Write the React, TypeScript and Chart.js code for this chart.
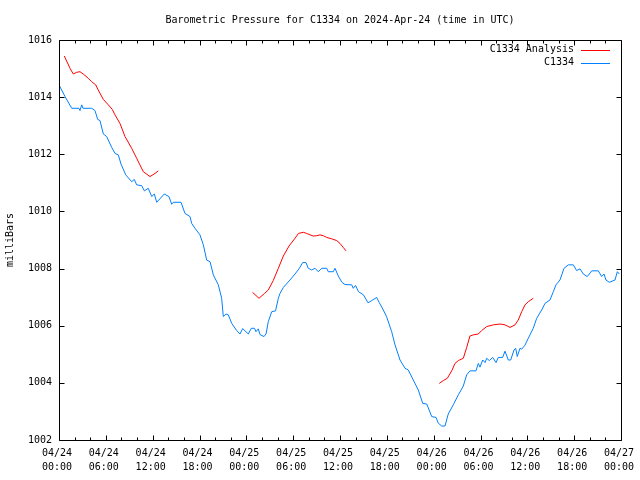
import React, { useEffect, useRef } from 'react';
import { Chart, registerables } from 'chart.js';

Chart.register(...registerables);

const TITLE = 'Barometric Pressure for C1334 on 2024-Apr-24 (time in UTC)';
const Y_TITLE = 'milliBars';
const SERIES_NAMES = ['C1334 Analysis', 'C1334'];
const SERIES_COLORS = ['#ff0000', '#0080ff'];

const TICK_DATES = ['04/24', '04/24', '04/24', '04/24', '04/25', '04/25', '04/25', '04/25', '04/26', '04/26', '04/26', '04/26', '04/27'];
const TICK_TIMES = ['00:00', '06:00', '12:00', '18:00', '00:00', '06:00', '12:00', '18:00', '00:00', '06:00', '12:00', '18:00', '00:00'];
const Y_MIN = 1002;
const Y_MAX = 1016;
const Y_STEP = 2;
const X_MIN = 0; // hours since 04/24 00:00
const X_MAX = 72;
const X_MAJOR = 6;
const X_MINOR = 2;

// C1334 Analysis (hours since 04/24 00:00 UTC, mb); null marks a gap
const ANALYSIS_HOURS = [
  0.68, 1.41, 1.83, 2.27, 2.69, 3.11, 3.75, 4.19, 4.7, 5.03, 5.68, 6.32, 6.83, 7.17, 7.81, 8.46, 9.31, 9.95, 10.8, 11.66, 12.3, 12.72,
  18,
  24.79, 25.62, 26.33, 26.81, 27.45, 28.1, 28.74, 29.47, 30.24, 30.68, 31.3, 31.73, 32.16, 32.58, 33.01, 33.44, 33.86, 34.3, 34.94, 35.58, 36.0, 36.42, 36.77,
  42,
  48.72, 49.23, 49.75, 50.31, 50.73, 51.16, 51.8, 52.23, 52.65, 53.08, 53.72, 54.15, 54.79, 55.64, 56.5, 57.14, 57.78, 58.42, 58.84, 59.28, 59.7, 60.12, 60.76,
];
const ANALYSIS_MB = [
  1015.44, 1015.01, 1014.81, 1014.87, 1014.89, 1014.81, 1014.66, 1014.54, 1014.43, 1014.25, 1013.92, 1013.73, 1013.57, 1013.38, 1013.08, 1012.62, 1012.21, 1011.86, 1011.39, 1011.22, 1011.33, 1011.42,
  null,
  1007.17, 1006.96, 1007.13, 1007.25, 1007.58, 1008.01, 1008.44, 1008.79, 1009.06, 1009.23, 1009.27, 1009.23, 1009.18, 1009.14, 1009.15, 1009.18, 1009.15, 1009.09, 1009.04, 1008.98, 1008.88, 1008.74, 1008.62,
  null,
  1003.98, 1004.08, 1004.16, 1004.42, 1004.68, 1004.78, 1004.86, 1005.24, 1005.64, 1005.68, 1005.71, 1005.83, 1005.97, 1006.03, 1006.06, 1006.03, 1005.94, 1006.03, 1006.2, 1006.49, 1006.73, 1006.84, 1006.96,
];

// C1334 observations
const STATION_HOURS = [
  0, 0.77, 1.63, 2.56, 2.69, 2.91, 3.07, 4.19, 4.61, 4.96, 5.25, 5.68, 6.11, 6.75, 7.18, 7.6, 7.94, 8.55, 9.31, 9.65,
  9.95, 10.6, 10.93, 11.44, 11.88, 12.21, 12.52, 13.49, 14.09, 14.44, 14.64, 15.63, 16.14, 16.78, 17.0, 17.42, 18.06, 18.49, 18.92, 19.35,
  19.77, 20.41, 20.84, 21.05, 21.39, 21.69, 22.13, 22.77, 23.19, 23.53, 24.25, 24.64, 25.05, 25.24, 25.53, 25.75, 26.26, 26.52, 26.81, 27.25,
  27.74, 28.1, 28.31, 28.74, 29.59, 30.24, 30.79, 31.22, 31.64, 31.94, 32.37, 32.8, 33.22, 33.66, 34.3, 34.5, 35.14, 35.36, 35.78, 36.22,
  36.64, 37.5, 37.7, 37.99, 38.37, 39.01, 39.59, 40.06, 40.7, 41.03, 41.55, 41.98, 42.62, 43.05, 43.69, 44.33, 44.75, 45.39, 46.03, 46.6,
  47.11, 47.75, 48.3, 48.59, 49.03, 49.45, 49.87, 50.51, 51.16, 51.8, 52.23, 52.65, 53.42, 53.72, 53.93, 54.28, 54.58, 54.79, 55.13, 55.56,
  55.99, 56.28, 56.84, 57.14, 57.56, 57.87, 58.29, 58.51, 58.71, 59.06, 59.28, 59.7, 60.12, 60.76, 61.2, 61.84, 62.26, 62.9, 63.33, 63.67,
  64.18, 64.7, 65.25, 65.89, 66.32, 66.75, 67.17, 67.68, 68.25, 69.09, 69.52, 69.82, 70.08, 70.5, 71.23, 71.53, 71.78,
];
const STATION_MB = [
  1014.43, 1014.02, 1013.61, 1013.61, 1013.53, 1013.73, 1013.61, 1013.61, 1013.53, 1013.22, 1013.18, 1012.71, 1012.62, 1012.24, 1012.03, 1011.98, 1011.66, 1011.28, 1011.04, 1011.12,
  1010.93, 1010.9, 1010.72, 1010.81, 1010.52, 1010.61, 1010.32, 1010.61, 1010.52, 1010.25, 1010.32, 1010.32, 1009.93, 1009.82, 1009.58, 1009.41, 1009.18, 1008.83, 1008.3, 1008.24,
  1007.78, 1007.43, 1006.96, 1006.32, 1006.41, 1006.38, 1006.08, 1005.83, 1005.71, 1005.9, 1005.71, 1005.91, 1005.91, 1005.79, 1005.89, 1005.69, 1005.62, 1005.71, 1006.14, 1006.49,
  1006.52, 1006.96, 1007.13, 1007.34, 1007.6, 1007.81, 1008.01, 1008.21, 1008.21, 1008.01, 1007.95, 1008.01, 1007.89, 1008.01, 1008.01, 1007.89, 1007.89, 1008.01, 1007.74, 1007.53,
  1007.44, 1007.43, 1007.31, 1007.41, 1007.19, 1007.08, 1006.8, 1006.88, 1006.99, 1006.81, 1006.55, 1006.31, 1005.79, 1005.33, 1004.8, 1004.51, 1004.45, 1004.1, 1003.75, 1003.28,
  1003.26, 1002.82, 1002.79, 1002.59, 1002.49, 1002.49, 1002.91, 1003.23, 1003.58, 1003.89, 1004.28, 1004.42, 1004.42, 1004.68, 1004.55, 1004.8, 1004.71, 1004.86, 1004.78, 1004.89,
  1004.71, 1004.89, 1004.89, 1005.11, 1004.8, 1004.8, 1005.15, 1005.21, 1004.92, 1005.21, 1005.18, 1005.32, 1005.56, 1005.91, 1006.26, 1006.55, 1006.78, 1006.9, 1007.19, 1007.43,
  1007.6, 1008.01, 1008.13, 1008.13, 1007.93, 1007.99, 1007.81, 1007.72, 1007.92, 1007.92, 1007.72, 1007.81, 1007.6, 1007.52, 1007.6, 1007.89, 1007.81,
];

const FONT_FAMILY = "'DejaVu Sans Mono', 'Liberation Mono', monospace";

function toPoints(xs: number[], ys: (number | null)[]) {
  return xs.map((x, i) => ({ x, y: ys[i] }));
}

const framePlugin = {
  id: 'gnuplotFrame',
  afterDraw(chart: any) {
    const { ctx, chartArea } = chart;
    const xs = chart.scales.x;
    const ys = chart.scales.y;
    const L = Math.round(chartArea.left) + 0.5;
    const R = Math.round(chartArea.right) + 0.5;
    const T = Math.round(chartArea.top) + 0.5;
    const B = Math.round(chartArea.bottom) + 0.5;
    ctx.save();
    ctx.strokeStyle = '#000';
    ctx.lineWidth = 1;
    ctx.beginPath();
    ctx.rect(L, T, R - L, B - T);
    // x ticks (inward, bottom and top)
    for (let v = X_MIN; v <= X_MAX; v += X_MINOR) {
      const px = Math.round(xs.getPixelForValue(v)) + 0.5;
      const len = v % X_MAJOR === 0 ? 5 : 3;
      ctx.moveTo(px, B);
      ctx.lineTo(px, B - len);
      ctx.moveTo(px, T);
      ctx.lineTo(px, T + len);
    }
    // y ticks (inward, left and right)
    for (let v = Y_MIN; v <= Y_MAX; v += Y_STEP) {
      const py = Math.round(ys.getPixelForValue(v)) + 0.5;
      ctx.moveTo(L, py);
      ctx.lineTo(L + 5, py);
      ctx.moveTo(R, py);
      ctx.lineTo(R - 5, py);
    }
    ctx.stroke();

    // legend (gnuplot style: text, then line sample)
    ctx.font = `10px ${FONT_FAMILY}`;
    ctx.textAlign = 'right';
    ctx.textBaseline = 'middle';
    chart.data.datasets.forEach((ds: any, i: number) => {
      const y = chartArea.top + 9.5 + i * 13;
      ctx.fillStyle = '#000';
      ctx.fillText(ds.label, chartArea.right - 47, y);
      ctx.strokeStyle = ds.borderColor;
      ctx.beginPath();
      ctx.moveTo(chartArea.right - 40, Math.round(y) + 0.5);
      ctx.lineTo(chartArea.right - 11, Math.round(y) + 0.5);
      ctx.stroke();
    });
    ctx.restore();
  },
};

export default function App() {
  const canvasRef = useRef<HTMLCanvasElement | null>(null);

  useEffect(() => {
    if (!canvasRef.current) return;
    const chart = new Chart(canvasRef.current, {
      type: 'line',
      data: {
        datasets: [
          {
            label: SERIES_NAMES[0],
            data: toPoints(ANALYSIS_HOURS, ANALYSIS_MB),
            borderColor: SERIES_COLORS[0],
            backgroundColor: SERIES_COLORS[0],
            borderWidth: 1,
            pointRadius: 0,
            tension: 0,
            spanGaps: false,
            fill: false,
          },
          {
            label: SERIES_NAMES[1],
            data: toPoints(STATION_HOURS, STATION_MB),
            borderColor: SERIES_COLORS[1],
            backgroundColor: SERIES_COLORS[1],
            borderWidth: 1,
            pointRadius: 0,
            tension: 0,
            spanGaps: false,
            fill: false,
          },
        ],
      },
      plugins: [framePlugin],
      options: {
        responsive: false,
        animation: false,
        devicePixelRatio: 1,
        layout: { padding: { left: 0, right: 19, top: 0, bottom: 0 } },
        plugins: {
          legend: { display: false },
          tooltip: { enabled: false },
          title: {
            display: true,
            text: TITLE,
            fullSize: false,
            color: '#000',
            font: { family: FONT_FAMILY, size: 10, weight: 'normal', lineHeight: 1.2 },
            padding: { top: 14, bottom: 14 },
          },
        },
        scales: {
          x: {
            type: 'linear',
            min: X_MIN,
            max: X_MAX,
            grid: { display: false, drawTicks: false },
            border: { display: false },
            afterFit(scale: any) {
              scale.height = 40;
              scale.paddingLeft = 0;
              scale.paddingRight = 0;
            },
            ticks: {
              stepSize: X_MAJOR,
              autoSkip: false,
              maxRotation: 0,
              minRotation: 0,
              padding: 7,
              labelOffset: -2,
              color: '#000',
              font: { family: FONT_FAMILY, size: 10, lineHeight: 1.35 },
              callback: (value: any) => {
                const i = Math.round(Number(value) / X_MAJOR);
                return [TICK_DATES[i], TICK_TIMES[i]];
              },
            },
          },
          y: {
            type: 'linear',
            min: Y_MIN,
            max: Y_MAX,
            grid: { display: false, drawTicks: false },
            border: { display: false },
            afterFit(scale: any) {
              scale.width = 59;
            },
            title: {
              display: true,
              text: Y_TITLE,
              color: '#000',
              font: { family: FONT_FAMILY, size: 10, lineHeight: 1.2 },
              padding: { top: 4, bottom: 0 },
            },
            ticks: {
              stepSize: Y_STEP,
              padding: 7,
              color: '#000',
              font: { family: FONT_FAMILY, size: 10 },
              callback: (value: any) => String(value),
            },
          },
        },
      },
    } as any);
    return () => chart.destroy();
  }, []);

  return (
    <div style={{ position: 'absolute', left: 0, top: 0, width: 640, height: 480, background: '#fff' }}>
      <canvas ref={canvasRef} width={640} height={480} />
    </div>
  );
}
